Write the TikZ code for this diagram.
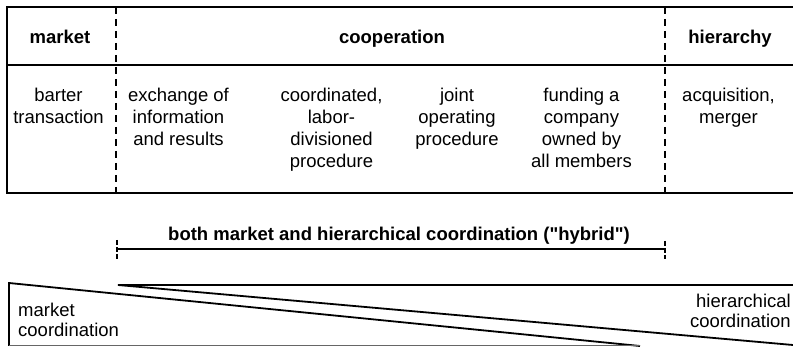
\documentclass[tikz,border=0pt]{standalone}
\usepackage{fontspec}
\setmainfont{Liberation Sans}
\newfontfamily\rawfont{Liberation Sans}
\begin{document}
\begin{tikzpicture}[x=1pt,y=-1pt,
  frame/.style={line width=1.6pt},
  divider/.style={line width=1.4pt, dash pattern=on 7pt off 5pt},
  tick/.style={line width=2.6pt, dash pattern=on 5pt off 2pt},
  bar/.style={line width=2.4pt},
  wedge/.style={line width=1.8pt, line join=miter},
  head/.style={font=\fontsize{18.5}{22}\selectfont\bfseries, inner sep=0pt, anchor=base},
  cell/.style={font=\fontsize{18.5}{22}\selectfont, align=center, inner sep=0pt, anchor=north},
  side/.style={font=\fontsize{18.5}{20}\selectfont, inner sep=0pt}]
\useasboundingbox (0,0) rectangle (793,347);

% table frame
\coordinate (tl) at (7,7);
\coordinate (tr) at (793,7);
\coordinate (ml) at (7,65);
\coordinate (mr) at (793,65);
\coordinate (bl) at (7,193);
\coordinate (br) at (793,193);
\draw[frame] (tr) -- (tl) -- (bl) -- (br);
\draw[frame] (ml) -- (mr);

% dashed dividers
\coordinate (d1t) at (116,7);
\coordinate (d1b) at (116,193);
\coordinate (d2t) at (665,7);
\coordinate (d2b) at (665,193);
\draw[divider] (d1t) -- (d1b);
\draw[divider] (d2t) -- (d2b);

% headers
\node[head] (hmarket) at (60,44) {market};
\node[head] (hcoop) at (392,44) {cooperation};
\node[head] (hhier) at (730,44) {hierarchy};

% cells
\node[cell] (c1) at (58.5,88) {barter\\transaction};
\node[cell] (c2) at (178.5,88) {exchange of\\information\\and results};
\node[cell] (c3) at (331.5,88) {coordinated,\\labor-\\divisioned\\procedure};
\node[cell] (c4) at (457,88) {joint\\operating\\procedure};
\node[cell] (c5) at (581.5,88) {funding a\\company\\owned by\\all members};
\node[cell] (c6) at (728.5,88) {acquisition,\\merger};

% hybrid bar
\coordinate (hl) at (117,249);
\coordinate (hr) at (665,249);
\coordinate (hlt) at (117,240);
\coordinate (hlb) at (117,259);
\coordinate (hrt) at (665,241);
\coordinate (hrb) at (665,259);
\draw[bar] (hl) -- (hr);
\draw[tick] (hlt) -- (hlb);
\draw[tick] (hrt) -- (hrb);
\node[head, font=\fontsize{18.5}{22}\rawfont\bfseries] (hyb) at (399,241) {both market and hierarchical coordination ("hybrid")};

% market wedge
\coordinate (mt) at (9,283);
\coordinate (mb) at (9,346);
\coordinate (ma) at (640,346);
\draw[wedge] (ma) -- (mt) -- (mb);
\draw[line width=1pt, black!60] (mb) -- (ma);

% hierarchy wedge
\coordinate (ht) at (118,285);
\coordinate (hre) at (793,285);
\coordinate (hrb2) at (793,345);
\draw[wedge] (hre) -- (ht) -- (hrb2);

\node[side, align=left, anchor=north west] (lm) at (18,303) {market\\coordination};
\node[side, align=right, anchor=north east] (lh) at (791,294) {hierarchical\\coordination};
\end{tikzpicture}
\end{document}
